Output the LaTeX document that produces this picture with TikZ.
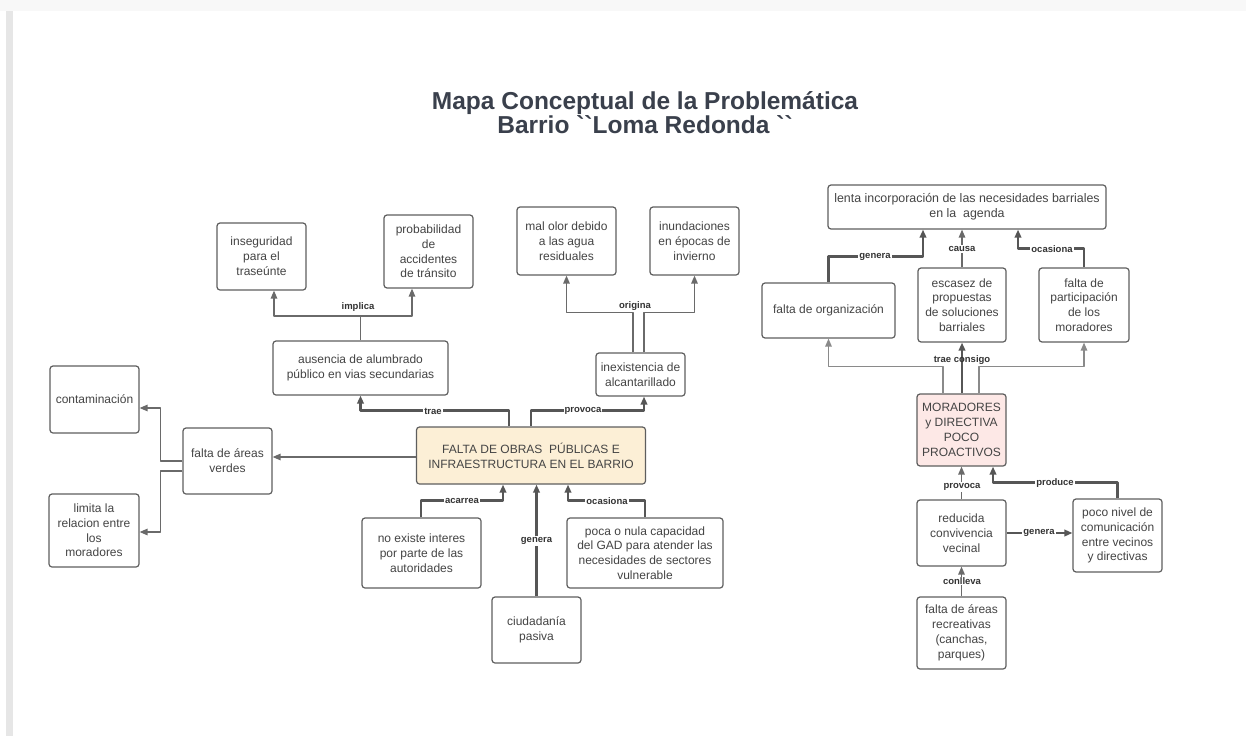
\documentclass[tikz,border=0pt]{standalone}
\usepackage{fontspec}
\setmainfont{Liberation Sans}
\usetikzlibrary{arrows.meta}
\definecolor{boxc}{HTML}{5E5E5E}
\definecolor{txtc}{HTML}{444444}
\definecolor{linec}{HTML}{565656}
\definecolor{thinc}{HTML}{6A6A6A}
\definecolor{lightc}{HTML}{8A8A8A}
\definecolor{lblc}{HTML}{333333}
\definecolor{titlec}{HTML}{3A404C}
\definecolor{creamc}{HTML}{FCEFD6}
\definecolor{pinkc}{HTML}{FDE8E6}
\definecolor{topc}{HTML}{F8F8F8}
\definecolor{barc}{HTML}{E6E6E6}
\tikzset{
  box/.style={draw=boxc, line width=1.2pt, rounded corners=3pt, fill=white, align=center,
    inner sep=0pt, text=txtc, font=\fontsize{12}{14.8}\selectfont},
  tip/.style={-{Triangle[length=8pt,width=6.5pt]}},
  thickln/.style={draw=linec, line width=2.3pt, line join=round},
  thinln/.style={draw=thinc, line width=1.3pt, line join=round},
  lightln/.style={draw=lightc, line width=1.3pt, line join=round},
  lbl/.style={font=\bfseries\fontsize{9.5}{10}\selectfont, text=lblc, inner sep=1pt},
  lblw/.style={lbl, fill=white},
  titlestyle/.style={font=\bfseries\fontsize{24.5}{24}\selectfont, text=titlec, align=center}
}
\begin{document}
\begin{tikzpicture}[x=1pt,y=-1pt]
\useasboundingbox (0,0) rectangle (1246,736);
\fill[white] (0,0) rectangle (1246,736);
\fill[topc] (0,0) rectangle (1246,11);
\fill[barc] (6,11) rectangle (13,736);

\node[titlestyle] (title) at (645,113) {Mapa Conceptual de la Problemática\\Barrio \textasciigrave\textasciigrave Loma Redonda \textasciigrave\textasciigrave};

% left-centre boxes
\node[box, minimum width=89pt, minimum height=67pt] (inseg) at (261.5,256.5) {inseguridad\\para el\\traseúnte};
\node[box, minimum width=89pt, minimum height=73pt] (probab) at (428.5,251.5) {probabilidad\\de\\accidentes\\de tránsito};
\node[box, minimum width=175pt, minimum height=54pt] (ausencia) at (360.5,368) {ausencia de alumbrado\\público en vias secundarias};
\node[box, minimum width=99pt, minimum height=68pt] (malolor) at (566.5,241) {mal olor debido\\a las agua\\residuales};
\node[box, minimum width=89pt, minimum height=68pt] (inund) at (694.5,241) {inundaciones\\en épocas de\\invierno};
\node[box, minimum width=89pt, minimum height=43pt] (inexist) at (640.5,374.5) {inexistencia de\\alcantarillado};
\node[box, fill=creamc, minimum width=229pt, minimum height=57pt] (main) at (531,455.5) {FALTA DE OBRAS\ \ PÚBLICAS E\\INFRAESTRUCTURA EN EL BARRIO};
\node[box, minimum width=89pt, minimum height=66pt] (fverdes) at (227.5,461) {falta de áreas\\verdes};
\node[box, minimum width=89pt, minimum height=67pt] (contam) at (94.5,399.5) {contaminación};
\node[box, minimum width=90pt, minimum height=73pt] (limita) at (94,530.5) {limita la\\relacion entre\\los\\moradores};
\node[box, minimum width=119pt, minimum height=70pt] (noexiste) at (421.5,553) {no existe interes\\por parte de las\\autoridades};
\node[box, minimum width=156pt, minimum height=70pt] (poca) at (645,553) {poca o nula capacidad\\del GAD para atender las\\necesidades de sectores\\vulnerable};
\node[box, minimum width=89pt, minimum height=66pt] (ciud) at (536.5,630) {ciudadanía\\pasiva};

% right boxes
\node[box, minimum width=278pt, minimum height=44pt, font=\fontsize{12.4}{14.8}\selectfont] (lenta) at (967,207) {lenta incorporación de las necesidades barriales\\en la\ \ agenda};
\node[box, minimum width=133pt, minimum height=55pt] (forg) at (828.5,310.5) {falta de organización};
\node[box, minimum width=88pt, minimum height=74pt] (escasez) at (962,305) {escasez de\\propuestas\\de soluciones\\barriales};
\node[box, minimum width=90pt, minimum height=74pt] (fpart) at (1084,305) {falta de\\participación\\de los\\moradores};
\node[box, fill=pinkc, minimum width=89pt, minimum height=72pt] (morad) at (961.5,430) {MORADORES\\y DIRECTIVA\\POCO\\PROACTIVOS};
\node[box, minimum width=89pt, minimum height=66pt] (reduc) at (961.5,533) {reducida\\convivencia\\vecinal};
\node[box, minimum width=89pt, minimum height=73pt] (poconivel) at (1117.5,535.5) {poco nivel de\\comunicación\\entre vecinos\\y directivas};
\node[box, minimum width=89pt, minimum height=72pt] (frecre) at (961.5,633) {falta de áreas\\recreativas\\(canchas,\\parques)};

% implica
\coordinate (imp) at (360.5,316);
\draw[thinln] (ausencia.north) -- (imp);
\draw[thinln, tip] (imp) -| ([xshift=12.5pt]inseg.south);
\draw[thinln, tip] (imp) -| ([xshift=-16.5pt]probab.south);
\node[lbl] (limplica) at (358,307) {implica};

% trae / provoca from main
\draw[thickln, tip] ([xshift=-22pt]main.north) -- ++(0,-16) -| (ausencia.south);
\node[lblw] (ltrae) at (433,411) {trae};
\draw[thickln, tip] (main.north) -- ++(0,-16) -| ([xshift=3.5pt]inexist.south);
\node[lblw] (lprovoca) at (583,411) {provoca};

% origina
\draw[thinln, tip] ([xshift=-7.5pt]inexist.north) -- ++(0,-40) -| (malolor.south);
\draw[thinln, tip] ([xshift=3.5pt]inexist.north) -- ++(0,-40) -| (inund.south);
\node[lbl] (lorigina) at (635,306) {origina};

% main -> falta de areas verdes
\draw[thinln, tip] ([yshift=-1.5pt]main.west) -- ([yshift=-1.5pt]main.west -| fverdes.east);
\draw[thinln, tip] (fverdes.west) -- ++(-22,0) |- ([yshift=-8.5pt]contam.east);
\draw[thinln, tip] ([yshift=-10pt]fverdes.west) -- ++(-22,0) |- ([yshift=-1.5pt]limita.east);

% bottom of main
\draw[thickln, tip] ([xshift=-0.5pt]noexiste.north) -- ++(0,-17) -| ([xshift=-28pt]main.south);
\node[lblw] (lacarrea) at (462,501) {acarrea};
\draw[thickln, tip] (ciud.north) -- (ciud.north |- main.south);
\node[lblw] (lgenera) at (536.5,541) {genera};
\draw[thickln, tip] (poca.north) -- ++(0,-17) -| ([xshift=37pt]main.south);
\node[lblw] (locasiona) at (607,501) {ocasiona};

% right upper
\draw[thickln, tip] (forg.north) -- ++(0,-26) -| ([xshift=-44pt]lenta.south);
\node[lblw] (lgenera2) at (875,257) {genera};
\draw[thinln, tip] (escasez.north) -- (escasez.north |- lenta.south);
\node[lblw] (lcausa) at (962,249) {causa};
\draw[thickln, tip] (fpart.north) -- ++(0,-19) -| ([xshift=51pt]lenta.south);
\node[lblw] (locasiona2) at (1052,249) {ocasiona};

% trae consigo
\draw[lightln, tip] ([xshift=-18.5pt]morad.north) -- ++(0,-27) -| (forg.south);
\draw[thickln, tip] ([xshift=0.5pt]morad.north) -- ([xshift=0.5pt]morad.north |- escasez.south);
\draw[lightln, tip] ([xshift=17.5pt]morad.north) -- ++(0,-27) -| (fpart.south);
\node[lbl] (ltrae2) at (962,360) {trae consigo};

% right lower
\draw[thinln, tip] (reduc.north) -- (reduc.north |- morad.south);
\node[lblw] (lprovoca2) at (962,487) {provoca};
\draw[thickln, tip] (poconivel.north) -- ++(0,-16) -| ([xshift=31.5pt]morad.south);
\node[lblw] (lproduce) at (1055,483) {produce};
\draw[thickln, tip] (reduc.east) -- (reduc.east -| poconivel.west);
\node[lblw] (lgenera3) at (1039,533) {genera};
\draw[thinln, tip] (frecre.north) -- (frecre.north |- reduc.south);
\node[lblw] (lconlleva) at (962,581) {conlleva};
\end{tikzpicture}
\end{document}
